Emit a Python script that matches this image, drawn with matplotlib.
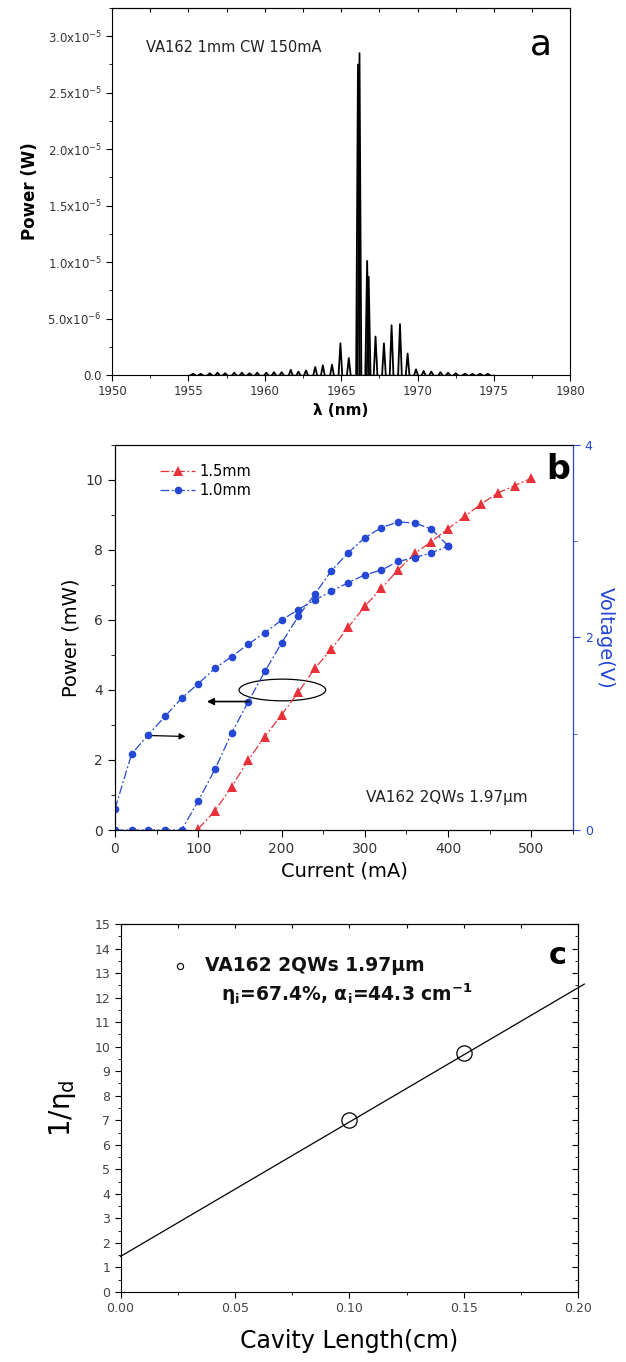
import matplotlib
matplotlib.use("Agg")
import matplotlib.pyplot as plt
from matplotlib.patches import Ellipse
from matplotlib.ticker import MultipleLocator, FixedLocator, FixedFormatter

# ---- panel a: emission spectrum (peak positions in nm, peak power in W) ----
wl_peaks = [1955.3, 1955.8, 1956.4, 1956.9, 1957.4, 1958.0, 1958.5, 1959.0, 1959.5,
            1960.1, 1960.6, 1961.1, 1961.7, 1962.2, 1962.7, 1963.3, 1963.8, 1964.4,
            1964.95, 1965.5, 1966.1, 1966.2, 1966.7, 1966.8, 1967.25, 1967.8,
            1968.3, 1968.85, 1969.35, 1969.9, 1970.4, 1970.9, 1971.5, 1972.0, 1972.5,
            1973.1, 1973.6, 1974.1, 1974.6]
pw_peaks = [0.1e-6, 0.1e-6, 0.15e-6, 0.2e-6, 0.15e-6, 0.2e-6, 0.2e-6, 0.15e-6, 0.2e-6,
            0.2e-6, 0.25e-6, 0.25e-6, 0.45e-6, 0.3e-6, 0.4e-6, 0.7e-6, 0.85e-6, 0.9e-6,
            2.8e-6, 1.5e-6, 27.5e-6, 28.5e-6, 10.1e-6, 8.7e-6, 3.4e-6, 2.8e-6,
            4.4e-6, 4.5e-6, 1.9e-6, 0.5e-6, 0.35e-6, 0.3e-6, 0.25e-6, 0.2e-6, 0.15e-6,
            0.1e-6, 0.1e-6, 0.1e-6, 0.1e-6]
spec_range = [1955.0, 1975.0]
a_yticks = [0, 0.5e-5, 1.0e-5, 1.5e-5, 2.0e-5, 2.5e-5, 3.0e-5]
a_yticklabels = ['0.0', '5.0x10$^{-6}$', '1.0x10$^{-5}$', '1.5x10$^{-5}$',
                 '2.0x10$^{-5}$', '2.5x10$^{-5}$', '3.0x10$^{-5}$']

# ---- panel b: L-I-V ----
current_15 = [100, 120, 140, 160, 180, 200, 220, 240, 260, 280, 300, 320, 340, 360,
              380, 400, 420, 440, 460, 480, 500]
power_15 = [0.03, 0.55, 1.23, 2.0, 2.67, 3.29, 3.93, 4.62, 5.17, 5.79, 6.39, 6.91,
            7.43, 7.90, 8.24, 8.61, 8.96, 9.32, 9.63, 9.84, 10.05]
current_10 = [0, 20, 40, 60, 80, 100, 120, 140, 160, 180, 200, 220, 240, 260, 280,
              300, 320, 340, 360, 380, 400]
power_10 = [0, 0, 0, 0, 0, 0.83, 1.73, 2.77, 3.66, 4.53, 5.34, 6.10, 6.74, 7.41,
            7.92, 8.35, 8.64, 8.80, 8.77, 8.60, 8.12]
voltage_10 = [0.22, 0.79, 0.99, 1.18, 1.37, 1.52, 1.68, 1.80, 1.93, 2.05, 2.18, 2.29,
              2.39, 2.48, 2.57, 2.65, 2.70, 2.79, 2.83, 2.88, 2.95]

# ---- panel c: inverse efficiency vs cavity length ----
cav_len = [0.10, 0.15]
inv_eta = [7.0, 9.75]
fit_len = [0.0, 0.2027]
fit_val = [1.45, 12.55]

RED = '#e8323a'
BLUE = '#2448d6'
TICKC = '#333333'

fig = plt.figure(figsize=(6.26, 13.62), dpi=100)

# ================= panel a =================
ax = fig.add_axes([0.179, 0.7247, 0.732, 0.2694])
ax.plot(spec_range, [0, 0], color='k', lw=1.0)
for p, h in zip(wl_peaks, pw_peaks):
    ax.plot([p - 0.12, p, p + 0.12], [0, h, 0], color='k', lw=1.3)
ax.set_xlim(1950, 1980)
ax.set_ylim(0, 3.25e-5)
ax.xaxis.set_major_locator(MultipleLocator(5))
ax.xaxis.set_minor_locator(MultipleLocator(2.5))
ax.yaxis.set_major_locator(FixedLocator(a_yticks))
ax.yaxis.set_major_formatter(FixedFormatter(a_yticklabels))
ax.yaxis.set_minor_locator(MultipleLocator(0.25e-5))
ax.tick_params(which='both', direction='out', labelsize=8.5, labelcolor=TICKC)
ax.tick_params(which='major', length=4)
ax.tick_params(which='minor', length=2.5)
top = ax.secondary_xaxis('top')
top.xaxis.set_major_locator(MultipleLocator(2.5))
top.tick_params(direction='in', length=3, labeltop=False)
ax.set_xlabel('λ (nm)', fontsize=11, fontweight='bold', labelpad=3)
ax.set_ylabel('Power (W)', fontsize=12, fontweight='bold', labelpad=6)
ax.text(1952.2, 2.9e-5, 'VA162 1mm CW 150mA', fontsize=10.5, color='#222222', va='center')
ax.text(0.935, 0.9, 'a', transform=ax.transAxes, fontsize=26, ha='center', va='center')

# ================= panel b =================
bx = fig.add_axes([0.1837, 0.3906, 0.7316, 0.2827])
ls = (0, (7, 2, 1.5, 2))
bx.plot(current_15, power_15, color=RED, lw=0.9, ls=ls, marker='^', ms=7,
        markeredgewidth=0, label='1.5mm')
bx.plot(current_10, power_10, color=BLUE, lw=0.9, ls=ls, marker='o', ms=5.5,
        markeredgewidth=0, label='1.0mm')
bx.set_xlim(0, 550)
bx.set_ylim(0, 11)
bx.xaxis.set_major_locator(MultipleLocator(100))
bx.xaxis.set_minor_locator(MultipleLocator(50))
bx.yaxis.set_major_locator(MultipleLocator(2))
bx.yaxis.set_minor_locator(MultipleLocator(1))
bx.tick_params(which='both', direction='out', labelsize=10, labelcolor=TICKC)
bx.tick_params(which='major', length=5)
bx.tick_params(which='minor', length=3)
bx.set_xlabel('Current (mA)', fontsize=14, labelpad=4)
bx.set_ylabel('Power (mW)', fontsize=14, labelpad=4)
bx.legend(loc='upper left', bbox_to_anchor=(0.07, 0.985), frameon=False, fontsize=10.5,
          handlelength=2.4, handletextpad=0.3, labelspacing=0.3)

bx2 = bx.twinx()
bx2.plot(current_10, voltage_10, color=BLUE, lw=0.9, ls=ls, marker='o', ms=5.5,
         markeredgewidth=0)
bx2.set_ylim(0, 4)
bx2.yaxis.set_major_locator(MultipleLocator(2))
bx2.yaxis.set_minor_locator(MultipleLocator(1))
bx2.spines['right'].set_color(BLUE)
bx2.tick_params(which='both', colors=BLUE, labelsize=9)
bx2.tick_params(which='major', length=5)
bx2.tick_params(which='minor', length=3)
bx2.set_ylabel('Voltage(V)', fontsize=14, color=BLUE, rotation=270, labelpad=16)

bx.add_patch(Ellipse((201, 4.0), 104, 0.62, fill=False, color='k', lw=0.9))
bx.annotate('', xy=(107, 3.67), xytext=(165, 3.67),
            arrowprops=dict(arrowstyle='-|>', color='k', lw=1.2, mutation_scale=10))
bx.annotate('', xy=(88, 2.67), xytext=(40, 2.70),
            arrowprops=dict(arrowstyle='-|>', color='k', lw=0.9, mutation_scale=9))
bx.text(302, 0.93, 'VA162 2QWs 1.97μm', fontsize=11, color='#222222', va='center')
bx.text(0.968, 0.935, 'b', transform=bx.transAxes, fontsize=24, fontweight='bold',
        ha='center', va='center')

# ================= panel c =================
cx = fig.add_axes([0.1925, 0.0514, 0.731, 0.2702])
cx.plot(fit_len, fit_val, color='k', lw=0.9, clip_on=False)
cx.plot(cav_len, inv_eta, ls='none', marker='o', ms=11, mfc='none', mec='k', mew=0.9)
cx.set_xlim(0, 0.2)
cx.set_ylim(0, 15)
cx.xaxis.set_major_locator(MultipleLocator(0.05))
cx.xaxis.set_minor_locator(MultipleLocator(0.025))
cx.yaxis.set_major_locator(MultipleLocator(1))
cx.yaxis.set_minor_locator(MultipleLocator(0.5))
cx.xaxis.set_major_formatter(plt.FormatStrFormatter('%.2f'))
cx.tick_params(which='both', direction='out', labelsize=9, labelcolor='#444444')
cx.tick_params(which='major', length=4)
cx.tick_params(which='minor', length=2)
ctop = cx.secondary_xaxis('top')
ctop.xaxis.set_major_locator(MultipleLocator(0.025))
ctop.tick_params(direction='in', length=3, labeltop=False)
cright = cx.secondary_yaxis('right')
cright.yaxis.set_major_locator(MultipleLocator(1))
cright.yaxis.set_minor_locator(MultipleLocator(0.5))
cright.tick_params(which='both', direction='in', labelright=False)
cright.tick_params(which='major', length=4)
cright.tick_params(which='minor', length=2)
cx.set_xlabel('Cavity Length(cm)', fontsize=17, labelpad=10)
cx.set_ylabel('1/η$_\\mathregular{d}$', fontsize=20, labelpad=12)
cx.plot([0.0258], [13.3], ls='none', marker='o', ms=4.5, mfc='none', mec='k', mew=0.8)
cx.text(0.037, 13.3, 'VA162 2QWs 1.97μm', fontsize=13.5, fontweight='bold',
        color='#111111', va='center')
cx.text(0.044, 12.15, 'η$_\\mathregular{i}$=67.4%, α$_\\mathregular{i}$=44.3 cm$^\\mathregular{-1}$',
        fontsize=13.5, fontweight='bold', color='#111111', va='center')
cx.text(0.955, 0.915, 'c', transform=cx.transAxes, fontsize=22, fontweight='bold',
        ha='center', va='center')

fig.savefig('out.png', dpi=100)
